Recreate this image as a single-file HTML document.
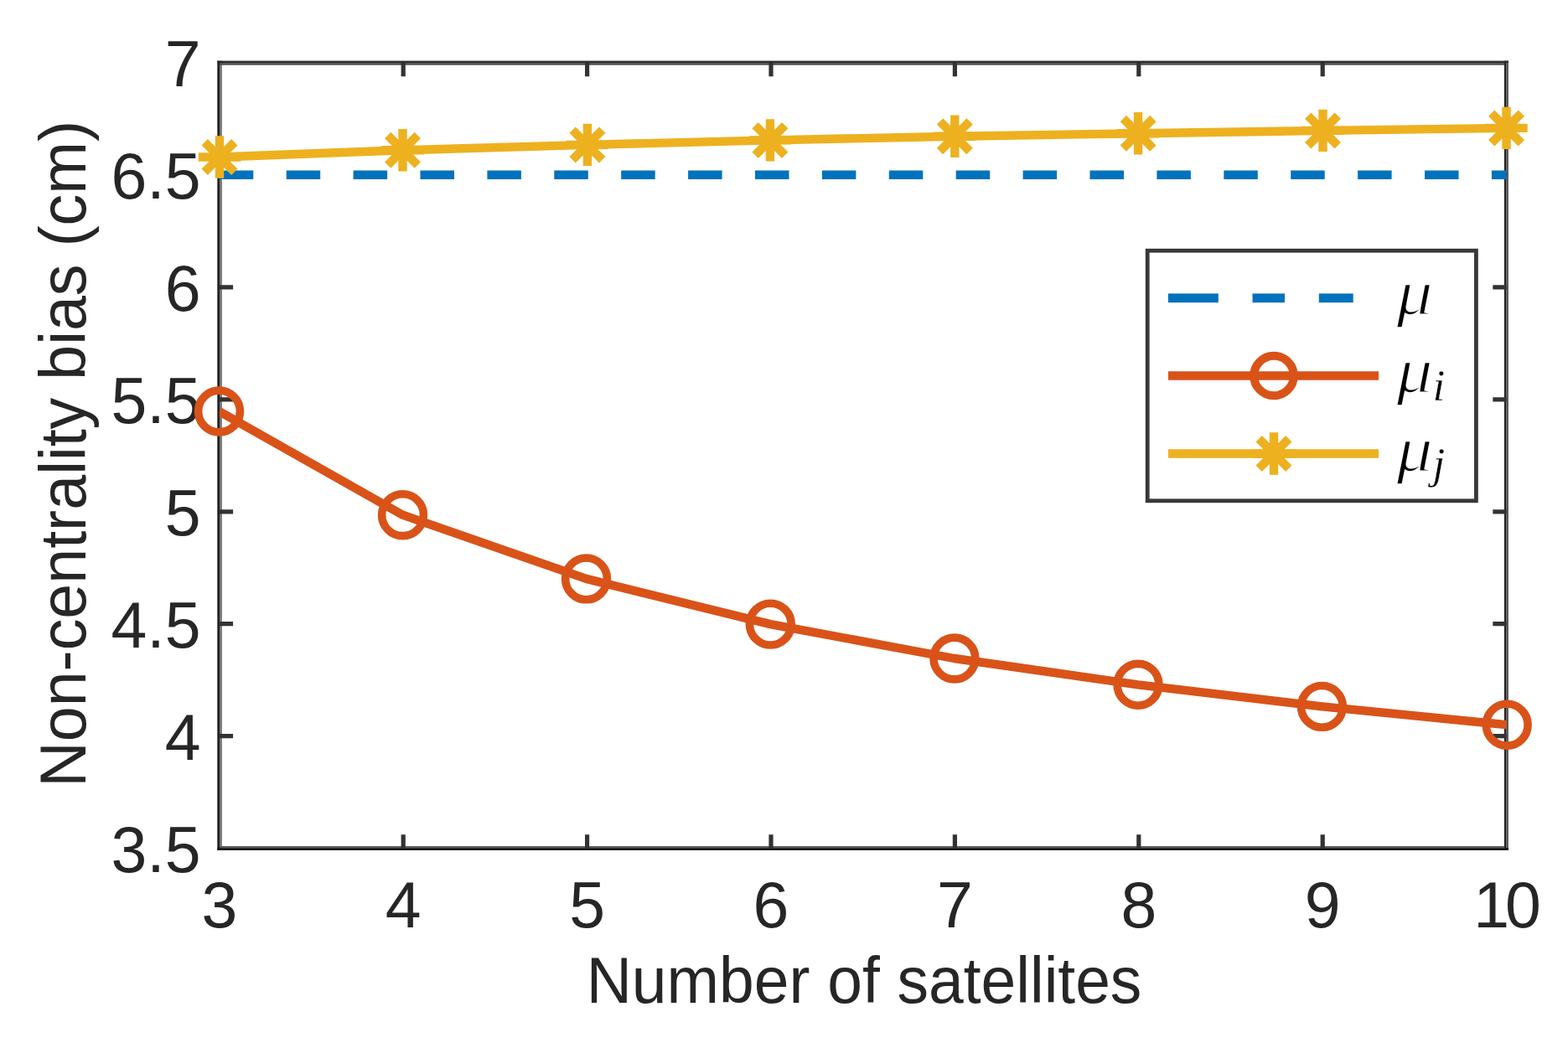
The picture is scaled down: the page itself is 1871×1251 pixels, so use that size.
<!DOCTYPE html><html><head><meta charset="utf-8"><title>Non-centrality bias vs number of satellites</title><style>html,body{margin:0;padding:0;background:#fff;}svg{display:block;}text{font-family:"Liberation Sans",Arial,Helvetica,sans-serif;fill:#262626;}.mu{font-family:"Liberation Serif","DejaVu Serif",serif;font-style:italic;fill:#000;stroke:#fff;stroke-width:1.6px;}.sub{stroke-width:0.4px;}</style></head><body>
<svg width="1871" height="1251" viewBox="0 0 1871 1251">
<rect x="0" y="0" width="1871" height="1251" fill="#fff"/>
<defs><clipPath id="ax"><rect x="261.8" y="75.0" width="1535.8" height="937.6"/></clipPath></defs>
<g>
<text transform="translate(261.8,1107) scale(1,1.0)" font-size="77" text-anchor="middle">3</text>
<text transform="translate(481.2,1107) scale(1,1.0)" font-size="77" text-anchor="middle">4</text>
<text transform="translate(700.6,1107) scale(1,1.0)" font-size="77" text-anchor="middle">5</text>
<text transform="translate(920.0,1107) scale(1,1.0)" font-size="77" text-anchor="middle">6</text>
<text transform="translate(1139.4,1107) scale(1,1.0)" font-size="77" text-anchor="middle">7</text>
<text transform="translate(1358.8,1107) scale(1,1.0)" font-size="77" text-anchor="middle">8</text>
<text transform="translate(1578.2,1107) scale(1,1.0)" font-size="77" text-anchor="middle">9</text>
<text transform="translate(1796.1,1107) scale(1,1.0)" font-size="77" text-anchor="middle" letter-spacing="-5">10</text>
<text transform="translate(239.5,1040.6) scale(1,1.0)" font-size="77" text-anchor="end">3.5</text>
<text transform="translate(239.5,906.7) scale(1,1.0)" font-size="77" text-anchor="end">4</text>
<text transform="translate(239.5,772.7) scale(1,1.0)" font-size="77" text-anchor="end">4.5</text>
<text transform="translate(239.5,638.8) scale(1,1.0)" font-size="77" text-anchor="end">5</text>
<text transform="translate(239.5,504.8) scale(1,1.0)" font-size="77" text-anchor="end">5.5</text>
<text transform="translate(239.5,370.9) scale(1,1.0)" font-size="77" text-anchor="end">6</text>
<text transform="translate(239.5,236.9) scale(1,1.0)" font-size="77" text-anchor="end">6.5</text>
<text transform="translate(239.5,103.0) scale(1,1.0)" font-size="77" text-anchor="end">7</text>
</g>
<text transform="translate(1031,1197) scale(1,1.03)" font-size="75" text-anchor="middle">Number of satellites</text>
<text transform="translate(101.5,541.8) rotate(-90) scale(1,1.03)" font-size="75.4" text-anchor="middle">Non-centrality bias (cm)</text>
<rect x="259.3" y="72.6" width="2.7" height="942.4" fill="#222"/>
<rect x="262.0" y="72.6" width="2.9" height="942.4" fill="#777"/>
<rect x="1794.9" y="72.6" width="2.3" height="942.4" fill="#222"/>
<rect x="1797.2" y="72.6" width="2.7" height="942.4" fill="#555"/>
<rect x="259.3" y="72.6" width="1540.6" height="2.5" fill="#2b2b2b"/>
<rect x="262.0" y="75.1" width="1532.9" height="2.6" fill="#4d4d4d"/>
<rect x="262.0" y="1010.0" width="1532.9" height="2.1" fill="#5f5f5f"/>
<rect x="259.3" y="1012.1" width="1540.6" height="2.9" fill="#1a1a1a"/>
<path d="M481.2 1012.6V996.3M481.2 75.0V91.3M700.6 1012.6V996.3M700.6 75.0V91.3M920.0 1012.6V996.3M920.0 75.0V91.3M1139.4 1012.6V996.3M1139.4 75.0V91.3M1358.8 1012.6V996.3M1358.8 75.0V91.3M1578.2 1012.6V996.3M1578.2 75.0V91.3M261.8 878.7H278.1M1797.6 878.7H1781.3M261.8 744.7H278.1M1797.6 744.7H1781.3M261.8 610.8H278.1M1797.6 610.8H1781.3M261.8 476.8H278.1M1797.6 476.8H1781.3M261.8 342.9H278.1M1797.6 342.9H1781.3M261.8 208.9H278.1M1797.6 208.9H1781.3" stroke="#333" stroke-width="5.2" fill="none"/>
<g clip-path="url(#ax)" fill="none" stroke-linejoin="round">
<line x1="261.8" y1="208.7" x2="1797.6" y2="208.7" stroke="#0072BD" stroke-width="10.4" stroke-dasharray="40.5 39.4"/>
<polyline points="261.5,491.0 480.5,614.7 699.5,690.9 919.3,745.1 1138.9,786.0 1358.0,817.3 1577.4,843.4 1798.2,865.2" stroke="#D95319" stroke-width="10.4"/>
<polyline points="262.0,187.5 480.5,179.3 700.9,172.9 918.9,167.4 1139.3,162.7 1358.1,159.3 1578.5,155.9 1797.5,152.9" stroke="#EDB120" stroke-width="10.4"/>
</g>
<g fill="none" stroke="#D95319" stroke-width="9.6">
<circle cx="261.5" cy="491.0" r="24.9"/>
<circle cx="480.5" cy="614.7" r="24.9"/>
<circle cx="699.5" cy="690.9" r="24.9"/>
<circle cx="919.3" cy="745.1" r="24.9"/>
<circle cx="1138.9" cy="786.0" r="24.9"/>
<circle cx="1358.0" cy="817.3" r="24.9"/>
<circle cx="1577.4" cy="843.4" r="24.9"/>
<circle cx="1798.2" cy="865.2" r="24.9"/>
</g>
<path d="M262.0 162.3V212.7M236.8 187.5H287.2M244.2 169.7L279.8 205.3M244.2 205.3L279.8 169.7M480.5 154.1V204.5M455.3 179.3H505.7M462.7 161.5L498.3 197.1M462.7 197.1L498.3 161.5M700.9 147.7V198.1M675.7 172.9H726.1M683.1 155.1L718.7 190.7M683.1 190.7L718.7 155.1M918.9 142.2V192.6M893.7 167.4H944.1M901.1 149.6L936.7 185.2M901.1 185.2L936.7 149.6M1139.3 137.5V187.9M1114.1 162.7H1164.5M1121.5 144.9L1157.1 180.5M1121.5 180.5L1157.1 144.9M1358.1 134.1V184.5M1332.9 159.3H1383.3M1340.3 141.5L1375.9 177.1M1340.3 177.1L1375.9 141.5M1578.5 130.7V181.1M1553.3 155.9H1603.7M1560.7 138.1L1596.3 173.7M1560.7 173.7L1596.3 138.1M1797.5 127.7V178.1M1772.3 152.9H1822.7M1779.7 135.1L1815.3 170.7M1779.7 170.7L1815.3 135.1" stroke="#EDB120" stroke-width="10.4" fill="none"/>
<rect x="1369.2" y="299.2" width="392.2" height="298.6" fill="#fff" stroke="#383838" stroke-width="4.8"/>
<rect x="1393.9" y="350.4" width="59.9" height="10.8" fill="#0072BD"/>
<rect x="1494.5" y="350.4" width="38.5" height="10.8" fill="#0072BD"/>
<rect x="1573.8" y="350.4" width="40.9" height="10.8" fill="#0072BD"/>
<line x1="1394" y1="448.5" x2="1645" y2="448.5" stroke="#D95319" stroke-width="10.4"/>
<circle cx="1520" cy="448.5" r="23.8" fill="none" stroke="#D95319" stroke-width="10"/>
<line x1="1394" y1="541.5" x2="1645" y2="541.5" stroke="#EDB120" stroke-width="10.4"/>
<path d="M1520.0 516.3V566.7M1494.8 541.5H1545.2M1502.2 523.7L1537.8 559.3M1502.2 559.3L1537.8 523.7" stroke="#EDB120" stroke-width="10.4" fill="none"/>
<text class="mu" transform="translate(1666.5,374.8) scale(1.13,1)" font-size="76">μ</text>
<text class="mu" transform="translate(1666.5,468.2) scale(1.13,1)" font-size="76">μ</text>
<text class="mu sub" x="1709.5" y="477.7" font-size="53">i</text>
<text class="mu" transform="translate(1666.5,562.2) scale(1.13,1)" font-size="76">μ</text>
<text class="mu sub" x="1709.5" y="570.6" font-size="53">j</text>
</svg></body></html>
